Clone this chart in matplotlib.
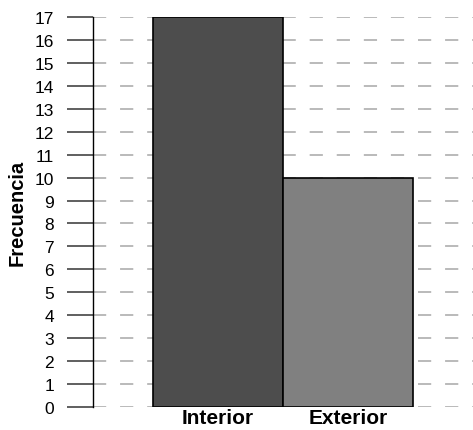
import matplotlib
matplotlib.use("Agg")
import matplotlib.pyplot as plt
import numpy as np

plt.rcParams['font.family'] = ['Liberation Sans', 'DejaVu Sans']
plt.rcParams['lines.scale_dashes'] = False

# Frecuencia por ubicacion
categorias = ['Interior', 'Exterior']
frecuencias = [17, 10]
colores = ['#4d4d4d', '#808080']
y_ticks = list(range(0, 18))

fig = plt.figure(figsize=(4.73, 4.31), dpi=100)
ax = fig.add_axes([0.1966, 0.0534, 0.8034, 0.9048])

x = np.arange(len(categorias))
ax.bar(x, frecuencias, width=1.0, color=colores, edgecolor='black',
       linewidth=1.2, zorder=3)

ax.set_xlim(-0.9615, 1.9615)
ax.set_ylim(0, 17)
ax.set_yticks(y_ticks)
ax.set_yticklabels([str(v) for v in y_ticks], fontsize=12.5)
ax.set_xticks(x)
ax.set_xticklabels(categorias, fontsize=15, fontweight='bold')

ax.yaxis.grid(True, color='#b4b4b4', linewidth=1.3, linestyle=(0, (9.5, 10)), zorder=0)
ax.set_axisbelow(True)

for s in ['top', 'right', 'bottom']:
    ax.spines[s].set_visible(False)
ax.spines['left'].set_linewidth(1.0)
ax.spines['left'].set_color('black')

ax.tick_params(axis='y', length=19, width=1.2, color='#444444', pad=9)
ax.tick_params(axis='x', length=0, pad=1)

ax.set_ylabel('Frecuencia', fontsize=14.5, fontweight='bold', labelpad=5.5)

fig.savefig('out.png', dpi=100)
